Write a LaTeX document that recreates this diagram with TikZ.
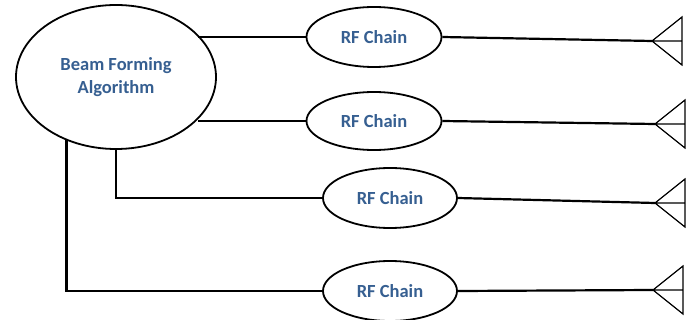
\documentclass[tikz,border=0pt]{standalone}
\usepackage{fontspec}
\setmainfont{Carlito}
\usetikzlibrary{shapes.geometric}
\definecolor{txtblue}{RGB}{54,95,145}

\begin{document}
\begin{tikzpicture}
            [x=1pt,y=-1pt,every node/.style={ellipse,draw=black,line width=1.8pt,inner sep=0pt,
             font=\bfseries\fontsize{18.5}{23}\selectfont,text=txtblue},
             wire/.style={line width=2.2pt},ant/.style={line width=1.2pt}]

            \useasboundingbox (0,0) rectangle (700,320);

            \node[minimum width=200pt,minimum height=144pt,align=center] (alg) at (116,77) {Beam Forming\\Algorithm};
            \node[minimum width=135pt,minimum height=60pt] (rf1) at (374,37) {RF Chain};
            \node[minimum width=135pt,minimum height=58pt] (rf2) at (374,121) {RF Chain};
            \node[minimum width=134pt,minimum height=60pt] (rf3) at (390,198) {RF Chain};
            \node[minimum width=134pt,minimum height=60pt] (rf4) at (390,291) {RF Chain};

            \coordinate (t1) at (652,41);
            \coordinate (t2) at (655,124);
            \coordinate (t3) at (655,203);
            \coordinate (t4) at (653,290);

            \draw[wire] (rf1.west) -- (alg.27 |- rf1.west);
            \draw[wire] (rf2.west) -- (alg.-27 |- rf2.west);
            \draw[wire] (alg.south) |- (rf3.west);
            \draw[wire] (alg.-128) |- (rf4.west);

            \foreach \i in {1,2,3,4}
              \draw[wire] (rf\i.east) -- (t\i);

            \foreach \i in {1,2,3,4}
              \draw[ant] (t\i) -- ++(30,-24) -- ++(0,48) -- cycle (t\i) -- ++(30,0);

          \end{tikzpicture}
\end{document}
